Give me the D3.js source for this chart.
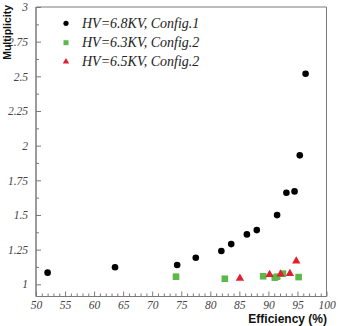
<!DOCTYPE html>
<html><head><meta charset="utf-8">
<script src="https://cdn.jsdelivr.net/npm/d3@7"></script>
<style>body{margin:0;background:#fff}svg{display:block}</style>
</head><body>
<svg id="c" width="338" height="326"></svg>
<script>
// Data
const seriesNames = ["HV=6.8KV, Config.1", "HV=6.3KV, Config.2", "HV=6.5KV, Config.2"];
const eff68 = [52.0, 63.6, 74.3, 77.5, 81.9, 83.6, 86.3, 88.0, 91.5, 93.1, 94.5, 95.4, 96.4];
const mult68 = [1.084, 1.123, 1.139, 1.192, 1.24, 1.29, 1.36, 1.391, 1.499, 1.66, 1.67, 1.93, 2.519];
const eff63 = [74.1, 82.5, 89.1, 91.1, 91.5, 92.5, 95.2];
const mult63 = [1.055, 1.04, 1.058, 1.048, 1.055, 1.077, 1.052];
const eff65 = [85.1, 90.2, 92.1, 93.7, 94.8];
const mult65 = [1.043, 1.07, 1.074, 1.077, 1.168];
const xTicks = [50, 55, 60, 65, 70, 75, 80, 85, 90, 95, 100];
const yTicks = [1, 1.25, 1.5, 1.75, 2, 2.25, 2.5, 2.75, 3];
const yTickLabels = ["1", "1.25", "1.5", "1.75", "2", "2.25", "2.5", "2.75", "3"];

const svg = d3.select("#c");
const L = 36, R = 326.5, T = 7, B = 296.5;
const x = d3.scaleLinear().domain([50, 100]).range([L, R]);
const y = d3.scaleLinear().domain([1, 3]).range([284.3, T]);

const axisColor = "#7a7a7a";
const serif = "'Liberation Serif','DejaVu Serif',serif";
const sans = "'Liberation Sans',Arial,sans-serif";

// frame top/right
svg.append("line").attr("x1", L).attr("x2", R).attr("y1", T).attr("y2", T).attr("stroke", axisColor).attr("stroke-width", 1);
svg.append("line").attr("x1", R).attr("x2", R).attr("y1", T).attr("y2", B).attr("stroke", axisColor).attr("stroke-width", 1);

// x axis
const xMinor = d3.range(50, 101, 1).filter(v => v % 5 !== 0);
const xg = svg.append("g").attr("transform", `translate(0,${B})`);
xg.call(d3.axisBottom(x).tickValues(xMinor).tickSize(-3).tickFormat(""));
xg.append("g").call(d3.axisBottom(x).tickValues(xTicks).tickSize(-5).tickFormat(d3.format("d")).tickPadding(4));
xg.selectAll("path").attr("stroke", axisColor);
xg.selectAll("line").attr("stroke", axisColor);
xg.selectAll("text").attr("font-family", serif).attr("font-style", "italic").attr("font-size", "11.5px").attr("fill", "#444");
xg.selectAll(".domain").attr("d", `M${L},0H${R}`);

// y axis
const yMinor = d3.range(1.125, 3, 0.25);
const yg = svg.append("g").attr("transform", `translate(${L},0)`);
yg.call(d3.axisLeft(y).tickValues(yMinor).tickSize(-3).tickFormat(""));
yg.append("g").call(d3.axisLeft(y).tickValues(yTicks).tickSize(-5).tickFormat((d, i) => yTickLabels[i]).tickPadding(8));
yg.selectAll("path").attr("stroke", axisColor);
yg.selectAll("line").attr("stroke", axisColor);
yg.selectAll(".domain").attr("d", `M0,${B}V${T}`);
yg.selectAll("text").attr("font-family", serif).attr("font-style", "italic").attr("font-size", "11.5px").attr("fill", "#444");

// axis titles
svg.append("text").attr("x", 327).attr("y", 322.7).attr("text-anchor", "end")
  .attr("font-family", sans).attr("font-weight", "bold").attr("font-size", "12px").attr("fill", "#111").text("Efficiency (%)");
svg.append("text").attr("transform", "translate(11,5) rotate(-90)").attr("text-anchor", "end")
  .attr("font-family", sans).attr("font-weight", "bold").attr("font-size", "10.5px").attr("fill", "#111").text("Multiplicity");

// markers
const black = "#000", green = "#5cb84a", red = "#e0202e";
const g = svg.append("g");
g.selectAll("circle.s1").data(eff68.map((e, i) => [e, mult68[i]])).join("circle")
  .attr("cx", d => x(d[0])).attr("cy", d => y(d[1])).attr("r", 3.3).attr("fill", black);
g.selectAll("rect.s2").data(eff63.map((e, i) => [e, mult63[i]])).join("rect")
  .attr("x", d => x(d[0]) - 3.3).attr("y", d => y(d[1]) - 3.3).attr("width", 6.6).attr("height", 6.6).attr("fill", green);
const tri = d3.symbol().type(d3.symbolTriangle).size(30);
g.selectAll("path.s3").data(eff65.map((e, i) => [e, mult65[i]])).join("path")
  .attr("d", tri).attr("transform", d => `translate(${x(d[0])},${y(d[1])})`).attr("fill", red);

// legend
const legY = [23.3, 42.7, 61.7];
const lg = svg.append("g");
lg.append("circle").attr("cx", 66).attr("cy", legY[0]).attr("r", 2.6).attr("fill", black);
lg.append("rect").attr("x", 63.5).attr("y", legY[1] - 2.5).attr("width", 5).attr("height", 5).attr("fill", green);
lg.append("path").attr("d", d3.symbol().type(d3.symbolTriangle).size(18)).attr("transform", `translate(66,${legY[2]})`).attr("fill", red);
seriesNames.forEach((n, i) => {
  lg.append("text").attr("x", 82).attr("y", legY[i] + 4.5).attr("font-family", serif).attr("font-style", "italic")
    .attr("font-size", "14px").attr("fill", "#222").text(n);
});
</script>
</body></html>
